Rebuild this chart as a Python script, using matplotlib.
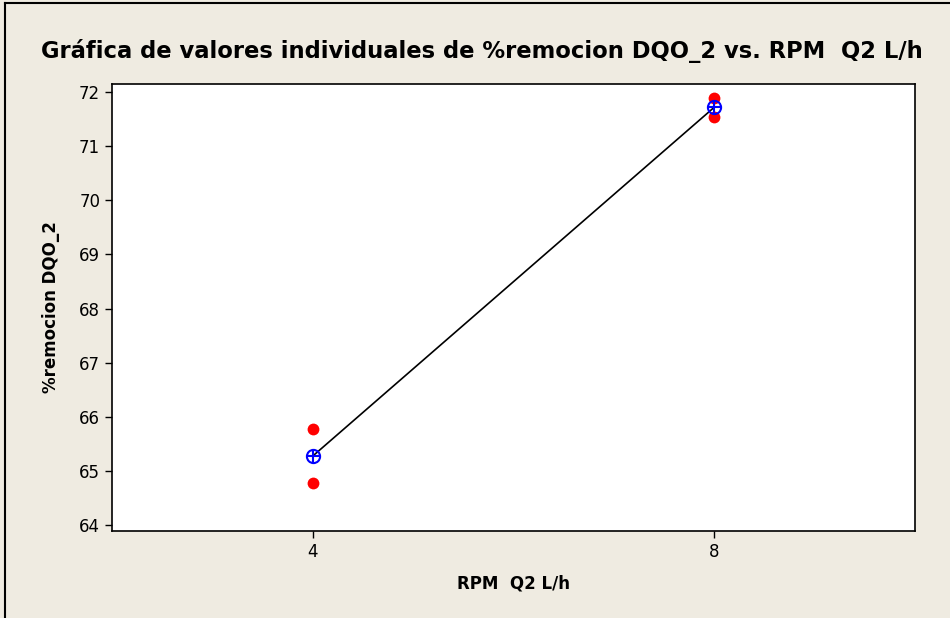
import numpy as np
import matplotlib.pyplot as plt
from matplotlib.lines import Line2D

# Datos individuales por nivel de RPM Q2 L/h
niveles = [4, 8]
remocion_4 = [65.78, 64.77]
remocion_8 = [71.90, 71.54]

medias = [np.mean(remocion_4), np.mean(remocion_8)]

fig = plt.figure(figsize=(9.5, 6.18), dpi=100, facecolor='#EFEBE1')
ax = fig.add_axes([112 / 950, 1 - 531 / 618, (915 - 112) / 950, (531 - 84) / 618])
ax.set_facecolor('white')

# linea de medias
ax.plot(niveles, medias, color='black', linewidth=1.2, zorder=2)

# valores individuales
for x, vals in zip(niveles, [remocion_4, remocion_8]):
    ax.plot([x] * len(vals), vals, 'o', color='#FF0000', markersize=8.5,
            markeredgewidth=0, zorder=3)

# simbolo de media
ax.plot(niveles, medias, 'o', markersize=9.5, markerfacecolor='none',
        markeredgecolor='#0000FF', markeredgewidth=1.5, zorder=4)
ax.plot(niveles, medias, '+', markersize=9.5, color='#0000FF',
        markeredgewidth=1.5, zorder=4)

ax.set_xlim(2, 10)
ax.set_ylim(63.89, 72.15)
ax.set_xticks(niveles)
ax.set_yticks(np.arange(64, 73, 1))

ax.tick_params(direction='out', length=5, width=1, labelsize=12)
for s in ax.spines.values():
    s.set_linewidth(1.2)

ax.set_title('Gráfica de valores individuales de %remocion DQO_2 vs. RPM  Q2 L/h',
             fontsize=16.3, fontweight='bold', pad=19, x=0.46)
ax.set_xlabel('RPM  Q2 L/h', fontsize=12, fontweight='bold', labelpad=10)
ax.set_ylabel('%remocion DQO_2', fontsize=12, fontweight='bold', labelpad=14)

# marco de la figura
fig.add_artist(Line2D([5 / 950, 5 / 950], [0, 1 - 3 / 618], transform=fig.transFigure,
                      color='black', linewidth=1.5))
fig.add_artist(Line2D([5 / 950, 1], [1 - 3 / 618, 1 - 3 / 618], transform=fig.transFigure,
                      color='black', linewidth=1.5))

fig.savefig('out.png', dpi=100, facecolor=fig.get_facecolor())
